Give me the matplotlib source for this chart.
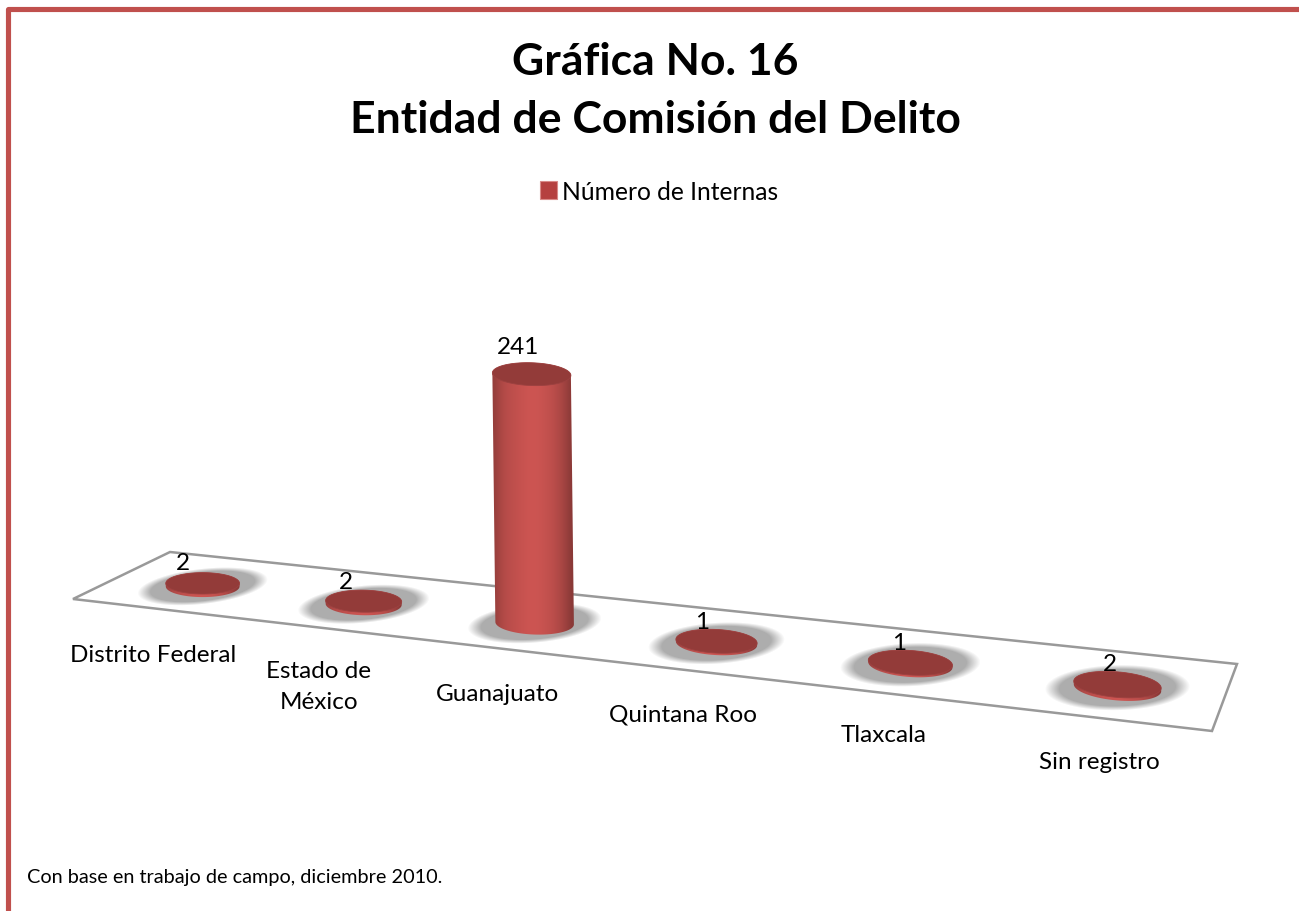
import numpy as np
import matplotlib
matplotlib.use("Agg")
import matplotlib.pyplot as plt
from matplotlib.patches import Patch, Polygon

plt.rcParams["font.family"] = ["Lato", "DejaVu Sans"]

categories = ["Distrito Federal", "Estado de\nMéxico", "Guanajuato", "Quintana Roo", "Tlaxcala", "Sin registro"]
values = [2, 2, 241, 1, 1, 2]
series_name = "Número de Internas"
title_text = "Gráfica No. 16\nEntidad de Comisión del Delito"
note_text = "Con base en trabajo de campo, diciembre 2010."

# where the labels sit compared to the foot / top of each column (pixels)
label_dx = [-50, -45, -37, -34, -27, -18]
label_dy = [68, 82, 70, 71, 70, 74]
value_dx = [-20, -18, -14, -14, -11, -8]
value_dy = [-21, -20, -28, -20, -20, -21]

# floor corners in pixels: front left, front right, back right, back left
floor_px = np.array([[73, 600], [1212, 732], [1237, 665], [170, 553]], dtype=float)
floor_uv = np.array([[0, 0], [6, 0], [6, 1], [0, 1]], dtype=float)


def fit_homography(src, dst):
    rows, rhs = [], []
    for (u, v), (x, y) in zip(src, dst):
        rows.append([u, v, 1, 0, 0, 0, -u * x, -v * x])
        rows.append([0, 0, 0, u, v, 1, -u * y, -v * y])
        rhs += [x, y]
    h = np.linalg.solve(np.array(rows), np.array(rhs))
    return np.append(h, 1).reshape(3, 3)


H = fit_homography(floor_uv, floor_px)


def project(u, v):
    w = H[2, 0] * u + H[2, 1] * v + H[2, 2]
    return (H[0, 0] * u + H[0, 1] * v + H[0, 2]) / w, (H[1, 0] * u + H[1, 1] * v + H[1, 2]) / w


def ellipse(xc, yc, a, b, tilt, t):
    ct, st = np.cos(tilt), np.sin(tilt)
    ex, ey = a * np.cos(t), b * np.sin(t)
    return xc + ex * ct - ey * st, yc + ex * st + ey * ct


fig = plt.figure(figsize=(12.99, 9.12), dpi=100)
ax = fig.add_axes([0, 0, 1, 1])

# page border
ax.plot([8, 8, 1299], [912, 9.5, 9.5], color="#c0504d", lw=3.7, solid_joinstyle="round", zorder=1)

# floor
ax.add_patch(Polygon(floor_px, closed=True, fc="white", ec="#999999", lw=1.8, zorder=2))

# column feet on the floor
n = len(categories)
feet = []
for i in range(n):
    u = i + 0.545 - 0.006 * i
    xc, yc = project(u, 0.45)
    x0, _ = project(u - 0.5, 0.45)
    x1, _ = project(u + 0.5, 0.45)
    a = 0.12 * (x1 - x0) + 18
    feet.append((float(xc), float(yc), float(a), 0.29 * a, np.radians(1.0 * i)))

# soft shadows round each foot
xx, yy = np.meshgrid(np.arange(1299) + 0.5, np.arange(912) + 0.5)
alpha = np.zeros(xx.shape)
for i, (xc, yc, a, b, tilt) in enumerate(feet):
    dx, dy = xx - xc, yy - yc
    skew = 1.2 - 0.2 * i
    d = np.sqrt(((dx + skew * dy) / (1.65 * a)) ** 2 + (dy / (1.8 * b)) ** 2)
    alpha = np.maximum(alpha, np.clip((1 - d) / 0.2, 0, 1))
shadow = np.zeros(xx.shape + (4,))
shadow[..., :3] = 0.68
shadow[..., 3] = alpha
ax.imshow(shadow, extent=(0, 1299, 912, 0), aspect="auto", zorder=3, interpolation="bilinear")

# columns
px_per_unit = 248 / max(values)
shade = np.array([0.72, 0.84, 0.90, 0.93, 0.96, 0.99, 1.0, 0.99, 0.96, 0.92, 0.86, 0.78, 0.66])[None, :, None]
base_rgb = np.array([205, 85, 82])[None, None, :] / 255
gradient = shade * base_rgb
t_low = np.linspace(0, np.pi, 60)
t_up = np.linspace(np.pi, 2 * np.pi, 60)

for i, val in enumerate(values):
    xc, yc, a, b, tilt = feet[i]
    rise = val * px_per_unit + 1
    lean = -val * 3 / max(values)

    low_x, low_y = ellipse(xc, yc, a, b, tilt, t_low)
    up_x, up_y = ellipse(xc + lean, yc - rise, a, b, tilt, t_up)
    clip = Polygon(np.column_stack([np.r_[low_x, up_x], np.r_[low_y, up_y]]), closed=True, fc="none", ec="none", zorder=4)
    ax.add_patch(clip)
    im = ax.imshow(gradient, extent=(xc - a - 4, xc + a + 1, yc + b + 2, yc - rise - b - 2),
                   aspect="auto", zorder=4, interpolation="bicubic")
    im.set_clip_path(clip)

    top_x, top_y = ellipse(xc + lean, yc - rise, a, b, tilt, np.linspace(0, 2 * np.pi, 120))
    ax.add_patch(Polygon(np.column_stack([top_x, top_y]), closed=True, fc="#933b39", ec="#9c4140", lw=0.6, zorder=5))

    ax.text(xc + label_dx[i], yc + label_dy[i], categories[i], ha="center", va="center", fontsize=17.5,
            color="black", linespacing=1.6, zorder=6)
    ax.text(xc + lean + value_dx[i], yc - rise + value_dy[i], str(val), ha="center", va="center", fontsize=17.5,
            color="black", zorder=6)

ax.set_xlim(0, 1299)
ax.set_ylim(912, 0)
ax.axis("off")

ax.text(655, 91, title_text, ha="center", va="center", fontsize=32, fontweight="bold", color="black", linespacing=1.52)
ax.text(27, 878, note_text, ha="left", va="center", fontsize=14.3, color="black")

ax.legend(handles=[Patch(fc="#b5403f", ec="#d98a88", lw=0.8, label=series_name)], loc="center",
          bbox_to_anchor=(659 / 1299, 1 - 192 / 912), frameon=False, fontsize=17.7,
          handlelength=0.7, handleheight=0.7, handletextpad=0.2)

fig.savefig("out.png", dpi=100, facecolor="white")
